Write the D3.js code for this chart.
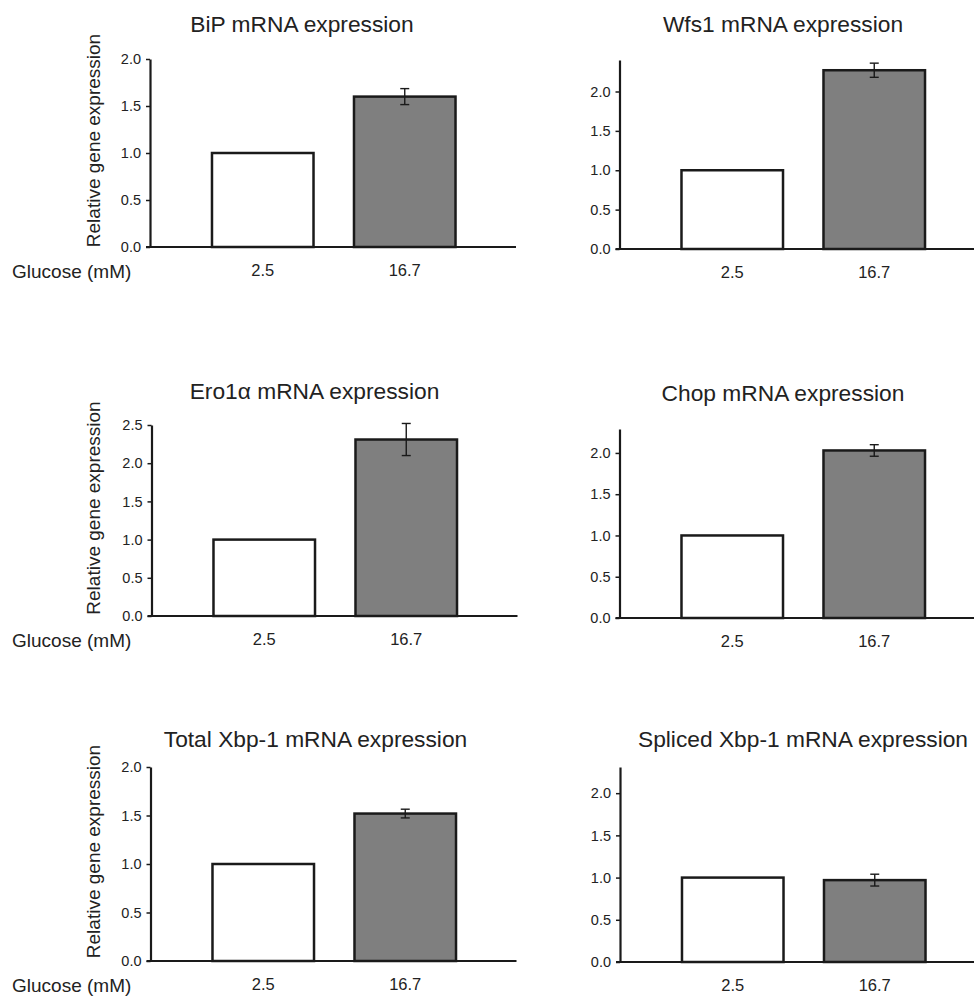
<!DOCTYPE html>
<html>
<head>
<meta charset="utf-8">
<script src="https://cdn.jsdelivr.net/npm/d3@7"></script>
<style>
  body { margin: 0; background: #fff; }
  svg { display: block; font-family: "Liberation Sans", Arial, Helvetica, sans-serif; }
  .axis path, .axis line { stroke: #1a1a1a; }
  .axis text { fill: #222; }
</style>
</head>
<body>
<svg id="chart" width="974" height="1000"></svg>
<script>
"use strict";

// Chart values
const panelTitles = [
  "BiP mRNA expression",
  "Wfs1 mRNA expression",
  "Ero1α mRNA expression",
  "Chop mRNA expression",
  "Total Xbp-1 mRNA expression",
  "Spliced Xbp-1 mRNA expression"
];
const glucoseLevels = ["2.5", "16.7"];
const lowGlucose = [1.0, 1.0, 1.0, 1.0, 1.0, 1.0];
const highGlucose = [1.60, 2.27, 2.31, 2.03, 1.52, 0.97];
const highGlucoseErr = [0.085, 0.09, 0.21, 0.07, 0.045, 0.07];
const yAxisMax = [2.0, 2.4, 2.5, 2.29, 2.0, 2.31];
const yTickValues = [0.0, 0.5, 1.0, 1.5, 2.0, 2.5];

// Where each panel sits on the page
const layout = [
  { x: 150,   top: 59,  bottom: 247, titleDx: 152,   titleY: 32 },
  { x: 619.5, top: 60,  bottom: 249, titleDx: 163.5, titleY: 32 },
  { x: 151.5, top: 425, bottom: 616, titleDx: 163,   titleY: 399 },
  { x: 619.5, top: 429, bottom: 618, titleDx: 163.5, titleY: 400.5 },
  { x: 150.5, top: 767, bottom: 961, titleDx: 165,   titleY: 747 },
  { x: 620,   top: 767, bottom: 962, titleDx: 183,   titleY: 747 }
];
const plotWidth = 366;
const barFills = ["#ffffff", "#7f7f7f"];

const svg = d3.select("#chart");

/**
 * Draws one bar panel.
 */
function drawPanel(i) {
  let L = layout[i];
  let g = svg.append("g").attr("transform", `translate(${L.x},0)`);

  let x = d3.scaleBand()
    .domain(glucoseLevels)
    .range([41.75, 325.75])
    .paddingInner(0.285)
    .paddingOuter(0.1425);

  let y = d3.scaleLinear()
    .domain([0, yAxisMax[i]])
    .range([L.bottom, L.top]);

  let values = [lowGlucose[i], highGlucose[i]];

  // bars
  g.selectAll("rect.bar")
    .data(values)
    .enter()
    .append("rect")
      .classed("bar", true)
      .attr("x", (d, j) => x(glucoseLevels[j]))
      .attr("width", x.bandwidth())
      .attr("y", d => y(d))
      .attr("height", d => y(0) - y(d))
      .attr("fill", (d, j) => barFills[j])
      .attr("stroke", "#1a1a1a")
      .attr("stroke-width", 2.5);

  // error bar on the 16.7 mM bar
  let cx = x(glucoseLevels[1]) + x.bandwidth() / 2;
  let hi = y(highGlucose[i] + highGlucoseErr[i]);
  let lo = y(highGlucose[i] - highGlucoseErr[i]);
  let err = g.append("g").attr("stroke", "#1a1a1a").attr("stroke-width", 1.4);
  err.append("line").attr("x1", cx).attr("x2", cx).attr("y1", hi).attr("y2", lo);
  err.append("line").attr("x1", cx - 4.5).attr("x2", cx + 4.5).attr("y1", hi).attr("y2", hi);
  err.append("line").attr("x1", cx - 4.5).attr("x2", cx + 4.5).attr("y1", lo).attr("y2", lo);

  // y axis
  let yAxis = g.append("g")
    .classed("axis", true)
    .call(d3.axisLeft(y)
      .tickValues(yTickValues.filter(t => t <= yAxisMax[i] + 1e-9))
      .tickFormat(d3.format(".1f"))
      .tickSize(4)
      .tickSizeOuter(0)
      .tickPadding(5));
  yAxis.select(".domain").attr("stroke-width", 2.2);
  yAxis.selectAll(".tick line").attr("stroke-width", 1.5);
  yAxis.selectAll(".tick text").attr("font-size", 14.5);

  // x baseline
  g.append("line")
    .attr("x1", -4).attr("x2", plotWidth)
    .attr("y1", y(0)).attr("y2", y(0))
    .attr("stroke", "#1a1a1a")
    .attr("stroke-width", 2.2);

  // glucose tick labels
  let xAxis = g.append("g")
    .classed("axis", true)
    .attr("transform", `translate(0,${y(0)})`)
    .call(d3.axisBottom(x).tickSize(0).tickPadding(17));
  xAxis.select(".domain").remove();
  xAxis.selectAll(".tick text").attr("font-size", 16.5);

  // title
  g.append("text")
    .attr("x", L.titleDx)
    .attr("y", L.titleY)
    .attr("text-anchor", "middle")
    .attr("font-size", 22.75)
    .attr("fill", "#222")
    .text(panelTitles[i]);

  // left column carries the axis labels
  if (i % 2 === 0) {
    svg.append("text")
      .attr("transform", `translate(100,${(L.top + L.bottom) / 2 - 12.5}) rotate(-90)`)
      .attr("text-anchor", "middle")
      .attr("font-size", 19)
      .attr("fill", "#222")
      .text("Relative gene expression");

    svg.append("text")
      .attr("x", 12)
      .attr("y", y(0) + 31)
      .attr("font-size", 19)
      .attr("fill", "#222")
      .text("Glucose (mM)");
  }
}

panelTitles.forEach((t, i) => drawPanel(i));
</script>
</body>
</html>
